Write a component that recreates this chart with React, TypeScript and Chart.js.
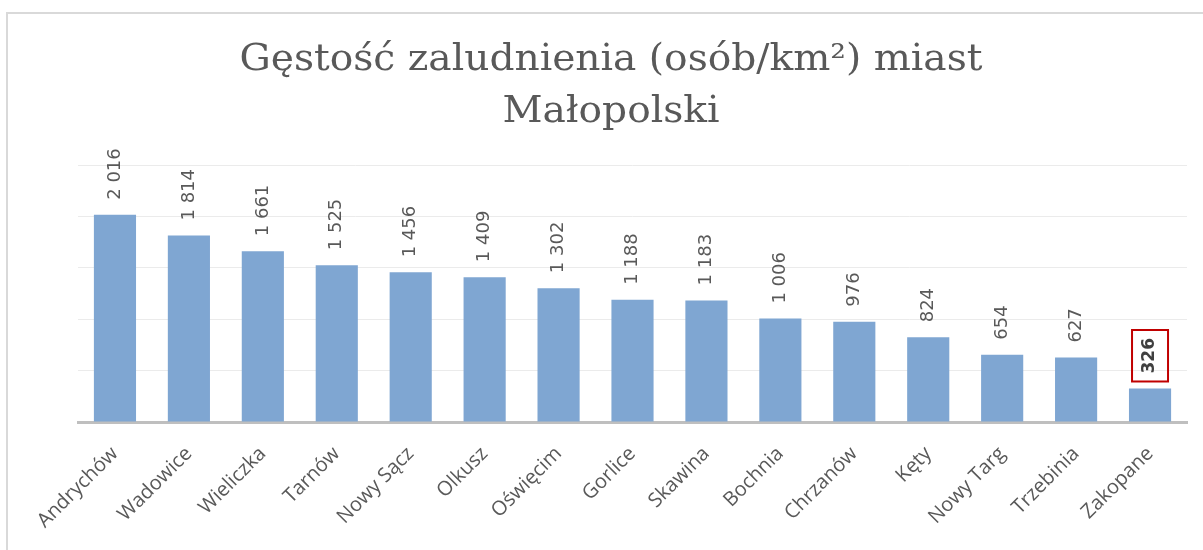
import React, { useEffect, useRef } from "react";
import { Chart, registerables } from "chart.js";

Chart.register(...registerables);

const cities = [
  "Andrychów",
  "Wadowice",
  "Wieliczka",
  "Tarnów",
  "Nowy Sącz",
  "Olkusz",
  "Oświęcim",
  "Gorlice",
  "Skawina",
  "Bochnia",
  "Chrzanów",
  "Kęty",
  "Nowy Targ",
  "Trzebinia",
  "Zakopane",
];
const density = [2016, 1814, 1661, 1525, 1456, 1409, 1302, 1188, 1183, 1006, 976, 824, 654, 627, 326];
const highlightedCities = ["Zakopane"];
const titleLines = ["Gęstość zaludnienia (osób/km²) miast", "Małopolski"];
const yMin = 0;
const yMax = 2500;
const yStep = 500;

const fmt = (n: number) =>
  n >= 1000 ? `${Math.floor(n / 1000)} ${String(n % 1000).padStart(3, "0")}` : String(n);

const framePlugin = {
  id: "frame",
  beforeDraw(chart: any) {
    const ctx = chart.ctx;
    ctx.save();
    ctx.strokeStyle = "#d9d9d9";
    ctx.lineWidth = 2;
    ctx.beginPath();
    ctx.moveTo(7, chart.height);
    ctx.lineTo(7, 13);
    ctx.lineTo(chart.width, 13);
    ctx.stroke();
    ctx.restore();
  },
};

const titlePlugin = {
  id: "customTitle",
  afterDraw(chart: any) {
    const ctx = chart.ctx;
    ctx.save();
    ctx.fillStyle = "#595959";
    ctx.font = "37px 'DejaVu Serif'";
    ctx.textBaseline = "alphabetic";
    ctx.textAlign = "center";
    const w1 = ctx.measureText(titleLines[0]).width;
    const sx = 743 / w1;
    const baselines = [70, 122];
    titleLines.forEach((line, i) => {
      ctx.save();
      ctx.translate(611, baselines[i]);
      ctx.scale(sx, 1);
      ctx.fillText(line, 0, 0);
      ctx.restore();
    });
    ctx.restore();
  },
};

const labelPlugin = {
  id: "barLabels",
  afterDatasetsDraw(chart: any) {
    const ctx = chart.ctx;
    const meta = chart.getDatasetMeta(0);
    meta.data.forEach((bar: any, i: number) => {
      const hl = highlightedCities.includes(cities[i]);
      const text = fmt(density[i]);
      ctx.save();
      ctx.translate(bar.x, bar.y - 15);
      ctx.rotate(-Math.PI / 2);
      ctx.font = hl ? "bold 17px 'DejaVu Sans'" : "18px 'DejaVu Sans'";
      ctx.fillStyle = hl ? "#404040" : "#595959";
      ctx.textAlign = "left";
      ctx.textBaseline = "middle";
      ctx.fillText(text, 0, 0);
      if (hl) {
        const w = ctx.measureText(text).width;
        ctx.strokeStyle = "#c00000";
        ctx.lineWidth = 2;
        ctx.strokeRect(-8, -18, w + 16, 36);
      }
      ctx.restore();
    });
  },
};

export default function App() {
  const ref = useRef<HTMLCanvasElement | null>(null);
  useEffect(() => {
    if (!ref.current) return;
    const chart = new Chart(ref.current, {
      type: "bar",
      data: {
        labels: cities,
        datasets: [
          {
            data: density,
            backgroundColor: "#7fa6d2",
            borderWidth: 0,
            categoryPercentage: 1,
            barPercentage: 0.57,
          },
        ],
      },
      options: {
        animation: false,
        responsive: true,
        maintainAspectRatio: false,
        layout: { padding: { left: 78, right: 16, top: 165, bottom: 0 } },
        plugins: {
          legend: { display: false },
          title: { display: false },
          tooltip: { enabled: false },
        },
        scales: {
          x: {
            grid: { display: false },
            border: { display: true, color: "#bfbfbf", width: 3 },
            ticks: {
              minRotation: 45,
              maxRotation: 45,
              autoSkip: false,
              padding: 12,
              color: "#595959",
              font: { family: "'Open Sans'", size: 20 },
            },
            afterFit(scale: any) {
              scale.height = 128;
            },
          },
          y: {
            min: yMin,
            max: yMax,
            ticks: { display: false, stepSize: yStep },
            grid: { color: "#ebebeb", lineWidth: 1, drawTicks: false },
            border: { display: false },
            afterFit(scale: any) {
              scale.width = 0;
            },
          },
        },
      },
      plugins: [framePlugin, titlePlugin, labelPlugin],
    });
    return () => chart.destroy();
  }, []);
  return (
    <div style={{ position: "fixed", left: 0, top: 0, width: 1203, height: 550, background: "#fff" }}>
      <canvas ref={ref} />
    </div>
  );
}
